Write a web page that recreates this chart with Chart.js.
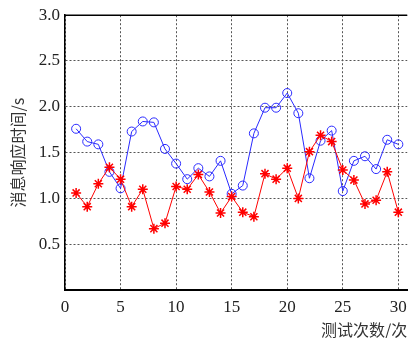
<!DOCTYPE html>
<html>
<head>
<meta charset="utf-8">
<script src="https://cdn.jsdelivr.net/npm/chart.js@4.4.1/dist/chart.umd.min.js"></script>
<style>
html,body{margin:0;padding:0;background:#fff;}
#wrap{width:414px;height:338px;position:relative;}
</style>
</head>
<body>
<div id="wrap"><canvas id="c" width="414" height="338"></canvas></div>
<script>
const testRuns = [1,2,3,4,5,6,7,8,9,10,11,12,13,14,15,16,17,18,19,20,21,22,23,24,25,26,27,28,29,30];
const blueSeries = [1.76,1.62,1.59,1.29,1.11,1.73,1.84,1.83,1.54,1.38,1.21,1.33,1.24,1.41,1.05,1.14,1.71,1.99,1.99,2.15,1.93,1.22,1.63,1.74,1.08,1.41,1.46,1.32,1.64,1.59];
const redSeries = [1.06,0.91,1.16,1.34,1.21,0.91,1.10,0.67,0.73,1.13,1.10,1.26,1.07,0.84,1.02,0.85,0.80,1.27,1.21,1.33,1.00,1.51,1.69,1.62,1.31,1.20,0.94,0.98,1.29,0.85];
const xTicks = [0,5,10,15,20,25,30];
const yTicks = [0.5,1.0,1.5,2.0,2.5,3.0];
const yTickLabels = ['0.5','1.0','1.5','2.0','2.5','3.0'];
const xTitle = '测试次数/次';
const yTitle = '消息响应时间/s';

const toPts = arr => arr.map((v,i)=>({x:testRuns[i], y:v}));

const topBorder = {
  id:'topBorder',
  afterDraw(chart){
    const {ctx, chartArea:a} = chart;
    ctx.save();
    ctx.strokeStyle = '#000';
    ctx.lineWidth = 1.5;
    ctx.beginPath();
    ctx.moveTo(a.left, a.top);
    ctx.lineTo(a.right, a.top);
    ctx.stroke();
    ctx.restore();
  }
};

new Chart(document.getElementById('c'), {
  type:'line',
  data:{
    datasets:[
      {
        label:'red',
        data: toPts(redSeries),
        borderColor:'#ff0000',
        borderWidth:1,
        pointStyle:'star',
        pointRadius:5,
        pointBorderWidth:1.5,
        pointBorderColor:'#ff0000',
        pointBackgroundColor:'#ff0000',
        tension:0
      },
      {
        label:'blue',
        data: toPts(blueSeries),
        borderColor:'#2a2aff',
        borderWidth:1,
        pointStyle:'circle',
        pointRadius:4.5,
        pointBorderWidth:1,
        pointBorderColor:'#2a2aff',
        pointBackgroundColor:'rgba(0,0,0,0)',
        tension:0
      }
    ]
  },
  options:{
    responsive:false,
    animation:false,
    layout:{padding:{left:0,right:0,top:14,bottom:0}},
    plugins:{legend:{display:false},tooltip:{enabled:false}},
    scales:{
      x:{
        type:'linear',
        min:0,
        max:30.8,
        afterBuildTicks(s){ s.ticks = xTicks.map(v=>({value:v})); },
        afterFit(s){ s.height = 48; },
        ticks:{
          color:'#222',
          padding:7,
          maxRotation:0,
          autoSkip:false,
          font:{family:'"Liberation Serif", "DejaVu Serif", serif', size:17},
          callback:(v,i)=>String(xTicks[i])
        },
        grid:{color:'#555', lineWidth:1, drawTicks:false},
        border:{display:true, color:'#000', width:2, dash:[2,2]},
        title:{
          display:true,
          text:xTitle,
          align:'end',
          color:'#333',
          padding:{top:0,bottom:0},
          font:{family:'"Noto Sans CJK SC", sans-serif', size:16, lineHeight:1.0}
        }
      },
      y:{
        type:'linear',
        min:0,
        max:3.0,
        afterBuildTicks(s){ s.ticks = [{value:0}].concat(yTicks.map(v=>({value:v}))); },
        afterFit(s){ s.width = 65; },
        ticks:{
          color:'#222',
          padding:5,
          autoSkip:false,
          font:{family:'"Liberation Serif", "DejaVu Serif", serif', size:17},
          callback:(v,i)=> i===0 ? '' : yTickLabels[i-1]
        },
        grid:{color:'#555', lineWidth:1, drawTicks:false},
        border:{display:true, color:'#000', width:1.5, dash:[2,2]},
        title:{
          display:true,
          text:yTitle,
          color:'#333',
          padding:{top:8,bottom:0},
          font:{family:'"Noto Sans CJK SC", sans-serif', size:16, lineHeight:1.2}
        }
      }
    }
  },
  plugins:[topBorder]
});
</script>
</body>
</html>
